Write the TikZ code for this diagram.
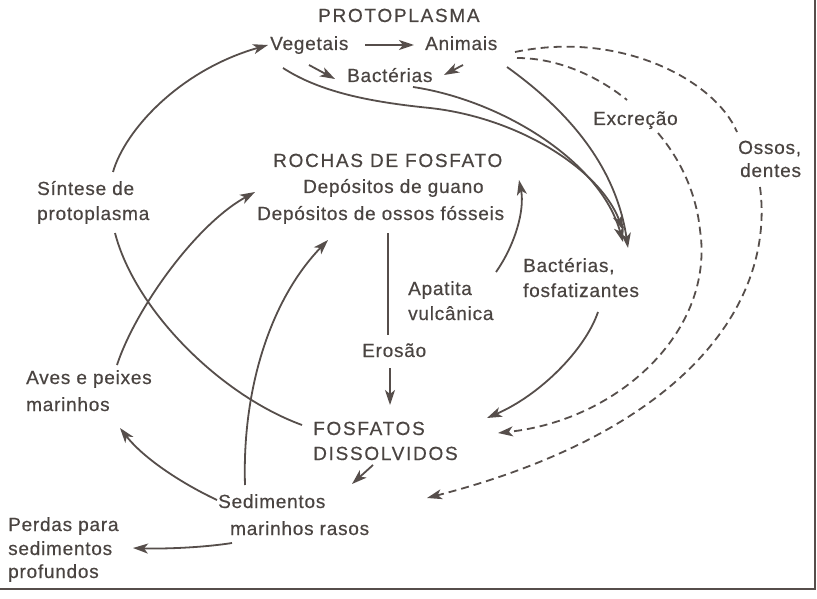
\documentclass[tikz,border=0pt]{standalone}
\usepackage{fontspec}
\setmainfont{Liberation Sans}[LetterSpace=4,FakeBold=0.5]
\newfontfamily\capsf{Liberation Sans}[LetterSpace=9,FakeBold=0.5]
\usetikzlibrary{arrows.meta}
\definecolor{ink}{HTML}{4A4441}
\definecolor{linec}{HTML}{564E4B}
\begin{document}
\begin{tikzpicture}[x=1pt,y=-1pt,
  lbl/.style={anchor=base west, inner sep=0pt, text=ink, font=\fontsize{19}{23}\selectfont},
  capslbl/.style={lbl, font=\fontsize{19}{23}\selectfont\capsf},
  ln/.style={draw=linec, line width=1.8pt},
  arr/.style={ln, -{Stealth[length=15pt,width=10pt,inset=4pt]}},
  dsh/.style={ln, dash pattern=on 8pt off 5pt},
  darr/.style={dsh, -{Stealth[length=15pt,width=10pt,inset=4pt]}},
]
\useasboundingbox (0,0) rectangle (817,599);
\draw[linec, line width=2pt] (815,0) -- (815,589) -- (0,589);

% labels
\node[capslbl] (proto) at (318,22) {PROTOPLASMA};
\node[lbl] (veg) at (270,50) {Vegetais};
\node[lbl] (ani) at (425,50) {Animais};
\node[lbl] (bac) at (347,82) {Bactérias};
\node[lbl] (sin1) at (37,195) {Síntese de};
\node[lbl] (sin2) at (37,220) {protoplasma};
\node[capslbl] (roc) at (273,167) {ROCHAS DE FOSFATO};
\node[lbl] (guano) at (303,193) {Depósitos de guano};
\node[lbl] (fossil) at (257,220) {Depósitos de ossos fósseis};
\node[lbl] (apat1) at (408,295) {Apatita};
\node[lbl] (apat2) at (408,320) {vulcânica};
\node[lbl] (bf1) at (523,272) {Bactérias,};
\node[lbl] (bf2) at (523,297) {fosfatizantes};
\node[lbl] (exc) at (593,125) {Excreção};
\node[lbl] (oss1) at (738,154) {Ossos,};
\node[lbl] (oss2) at (740,177) {dentes};
\node[lbl] (ero) at (362,357) {Erosão};
\node[capslbl] (fos1) at (313,435) {FOSFATOS};
\node[capslbl] (fos2) at (313,460) {DISSOLVIDOS};
\node[lbl] (ave1) at (26,384) {Aves e peixes};
\node[lbl] (ave2) at (26,411) {marinhos};
\node[lbl] (sed1) at (218,508) {Sedimentos};
\node[lbl] (sed2) at (230,535) {marinhos rasos};
\node[lbl] (per1) at (8,531) {Perdas para};
\node[lbl] (per2) at (8,555) {sedimentos};
\node[lbl] (per3) at (8,578) {profundos};

% connector end points
\coordinate (vegA) at (365,45);  \coordinate (aniA) at (414,45);
\coordinate (vegD) at (309,65);  \coordinate (bacL) at (335,79);
\coordinate (aniD) at (463,65);  \coordinate (bacR) at (444,75);
\coordinate (sinT) at (113,172); \coordinate (vegL) at (268,45);
\coordinate (sinB) at (115,233); \coordinate (fosL) at (302,425);
\coordinate (vegB) at (283,68);  \coordinate (bfT1) at (623,230);
\coordinate (bacB) at (413,87);  \coordinate (bfT2) at (623,242);
\coordinate (aniB) at (507,67);  \coordinate (bfT3) at (628,248);
\coordinate (aniR1) at (517,58); \coordinate (excL) at (627,100);
\coordinate (excB) at (658,133); \coordinate (fosR2) at (498,433);
\coordinate (aniR2) at (515,52); \coordinate (ossT) at (737,132);
\coordinate (ossB) at (760,187); \coordinate (sedR) at (427,498);
\coordinate (bfU) at (496,272);  \coordinate (rocR) at (519,180);
\coordinate (bfD) at (598,312);  \coordinate (fosR) at (487,418);
\coordinate (rocB) at (388,233); \coordinate (eroT) at (388,335);
\coordinate (eroB) at (390,368); \coordinate (fosT) at (390,405);
\coordinate (fosS) at (373,465); \coordinate (sedT) at (352,484);
\coordinate (sedL) at (217,500); \coordinate (aveB) at (120,428);
\coordinate (sedLL) at (232,543); \coordinate (perR) at (133,548);
\coordinate (aveT) at (117,365); \coordinate (guaL) at (255,192);
\coordinate (sedU) at (245,485); \coordinate (fosU) at (328,240);

% protoplasm
\draw[arr] (vegA) -- (aniA);
\draw[arr] (vegD) -- (bacL);
\draw[arr] (aniD) -- (bacR);
\draw[arr] (sinT) .. controls (125,130) and (180,70) .. (vegL);
\draw[ln] (fosL) .. controls (220,395) and (135,310) .. (sinB);
\draw[arr] (vegB) .. controls (320,92) and (370,102) .. (430,108)
                  .. controls (520,118) and (600,170) .. (bfT1);
\draw[arr] (bacB) .. controls (500,100) and (600,160) .. (bfT2);
\draw[arr] (aniB) .. controls (560,105) and (615,160) .. (bfT3);
% dashed
\draw[dsh] (aniR1) .. controls (560,58) and (600,78) .. (excL);
\draw[darr] (excB) .. controls (685,165) and (697,200) .. (700,230)
                   .. controls (715,330) and (620,420) .. (fosR2);
\draw[dsh] (aniR2) .. controls (620,30) and (715,80) .. (ossT);
\draw[darr] (ossB) .. controls (775,300) and (690,430) .. (sedR);
% bacteria / rocks
\draw[arr] (bfU) .. controls (515,245) and (525,210) .. (rocR);
\draw[arr] (bfD) .. controls (585,350) and (540,395) .. (fosR);
\draw[ln] (rocB) -- (eroT);
\draw[arr] (eroB) -- (fosT);
% sediments
\draw[arr] (fosS) -- (sedT);
\draw[arr] (sedL) .. controls (185,485) and (145,460) .. (aveB);
\draw[arr] (sedLL) .. controls (200,548) and (160,549) .. (perR);
\draw[arr] (aveT) .. controls (135,310) and (195,225) .. (guaL);
\draw[arr] (sedU) .. controls (242,390) and (270,300) .. (fosU);
\end{tikzpicture}
\end{document}
